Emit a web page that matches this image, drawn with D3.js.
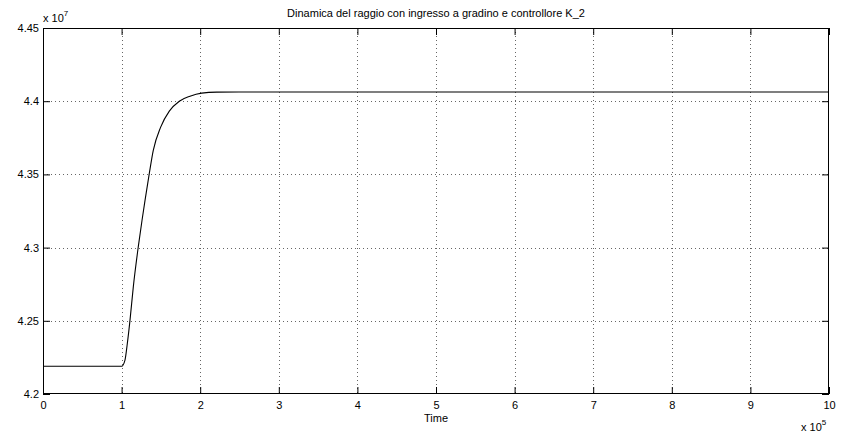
<!DOCTYPE html>
<html>
<head>
<meta charset="utf-8">
<script src="https://cdn.jsdelivr.net/npm/d3@7"></script>
<style>
  html, body { margin: 0; padding: 0; background: #fff; }
  svg text { font-family: "Liberation Sans", Arial, Helvetica, sans-serif; fill: #000; }
</style>
</head>
<body>
<svg id="chart" width="841" height="434"></svg>
<script>
// Time samples (units of 1e5 s) and radius (units of 1e7)
const timeValues = [0, 1.0, 1.043, 1.073, 1.107, 1.149, 1.212, 1.260, 1.298, 1.352, 1.403,
  1.497, 1.607, 1.734, 1.870, 2.019, 2.210, 2.500, 10];
const radiusValues = [4.2190, 4.2190, 4.2232, 4.2346, 4.2505, 4.2732, 4.3005, 4.3187, 4.3323,
  4.3505, 4.3664, 4.3823, 4.3932, 4.4000, 4.4034, 4.4055, 4.4062, 4.4063, 4.4063];

const xTicks = [0, 1, 2, 3, 4, 5, 6, 7, 8, 9, 10];
const yTicks = [4.2, 4.25, 4.3, 4.35, 4.4, 4.45];
const titleText = "Dinamica del raggio con ingresso a gradino e controllore K_2";
const xLabelText = "Time";
const xExponent = "5";
const yExponent = "7";

const svg = d3.select("#chart");
const margin = { left: 43, right: 12, top: 28, bottom: 40 };
const W = 841, H = 434;
const x = d3.scaleLinear().domain([0, 10]).range([margin.left, W - margin.right]);
const y = d3.scaleLinear().domain([4.2, 4.45]).range([H - margin.bottom, margin.top]);
const tickLen = 7;

// dotted grid
const grid = svg.append("g").attr("stroke", "#666").attr("stroke-width", 1)
  .attr("stroke-dasharray", "1,3").attr("fill", "none");
xTicks.slice(1, -1).forEach(t => {
  grid.append("line").attr("x1", Math.round(x(t)) + 0.5).attr("x2", Math.round(x(t)) + 0.5)
    .attr("y1", y(4.45)).attr("y2", y(4.2));
});
yTicks.slice(1, -1).forEach(t => {
  grid.append("line").attr("x1", x(0)).attr("x2", x(10))
    .attr("y1", Math.round(y(t)) + 0.5).attr("y2", Math.round(y(t)) + 0.5);
});

// radius trajectory
const line = d3.line().x((d, i) => x(timeValues[i])).y(d => y(d)).curve(d3.curveMonotoneX);
svg.append("path").datum(radiusValues)
  .attr("d", line)
  .attr("fill", "none").attr("stroke", "#000").attr("stroke-width", 1.1);

// axes: bottom & left carry labels, top & right carry ticks only
const axisB = d3.axisBottom(x).tickValues(xTicks).tickSizeInner(-tickLen).tickSizeOuter(0)
  .tickPadding(7).tickFormat(d3.format("d"));
const axisT = d3.axisTop(x).tickValues(xTicks).tickSizeInner(-tickLen).tickSizeOuter(0).tickFormat("");
const axisL = d3.axisLeft(y).tickValues(yTicks).tickSizeInner(-tickLen).tickSizeOuter(0)
  .tickPadding(4).tickFormat(d3.format(""));
const axisR = d3.axisRight(y).tickValues(yTicks).tickSizeInner(-tickLen).tickSizeOuter(0).tickFormat("");

function styleAxis(g) {
  g.selectAll("path").remove();
  g.selectAll("line").attr("stroke", "#000");
  g.selectAll("text").attr("font-size", 11).attr("font-family", "Liberation Sans, Arial, sans-serif").attr("fill", "#000");
}
svg.append("g").attr("transform", `translate(0,${y(4.2)})`).call(axisB).call(styleAxis);
svg.append("g").attr("transform", `translate(0,${y(4.45)})`).call(axisT).call(styleAxis);
svg.append("g").attr("transform", `translate(${x(0)},0)`).call(axisL).call(styleAxis);
svg.append("g").attr("transform", `translate(${x(10)},0)`).call(axisR).call(styleAxis);

// frame
svg.append("rect").attr("x", x(0) + 0.5).attr("y", y(4.45) + 0.5)
  .attr("width", x(10) - x(0) - 1).attr("height", y(4.2) - y(4.45) - 1)
  .attr("fill", "none").attr("stroke", "#000").attr("stroke-width", 1);

// title and labels
svg.append("text").attr("x", (x(0) + x(10)) / 2).attr("y", 17).attr("text-anchor", "middle")
  .attr("font-size", 11).text(titleText);
svg.append("text").attr("x", (x(0) + x(10)) / 2).attr("y", 422).attr("text-anchor", "middle")
  .attr("font-size", 11).text(xLabelText);

const xe = svg.append("text").attr("x", 801).attr("y", 431).attr("font-size", 11);
xe.append("tspan").text("x 10");
xe.append("tspan").attr("dy", -6).attr("font-size", 8).text(xExponent);

const ye = svg.append("text").attr("x", 43).attr("y", 22).attr("font-size", 11);
ye.append("tspan").text("x 10");
ye.append("tspan").attr("dy", -6).attr("font-size", 8).text(yExponent);
</script>
</body>
</html>
